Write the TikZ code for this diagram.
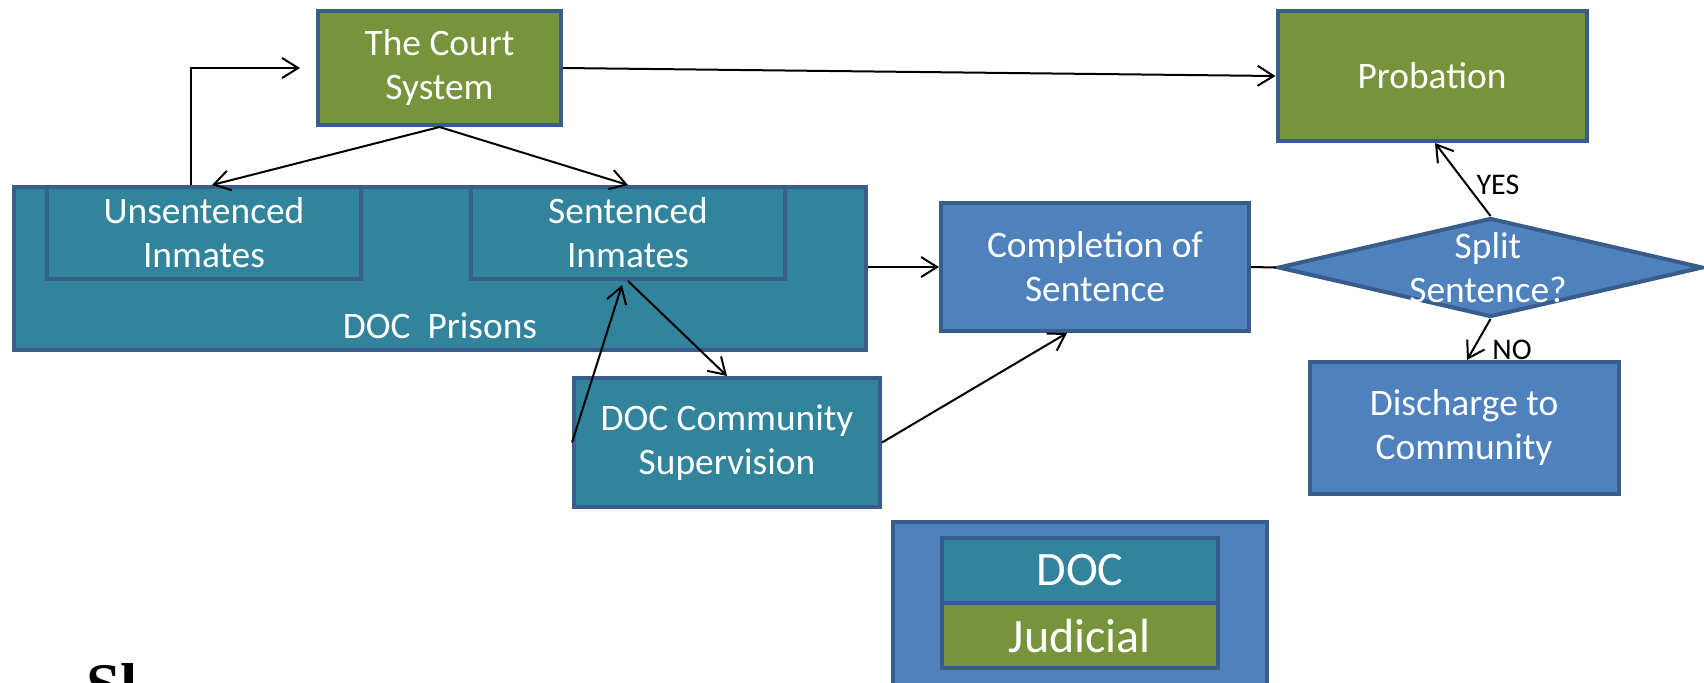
\documentclass[tikz,border=0pt]{standalone}
\usepackage{fontspec}
\setmainfont{Carlito}
\newfontfamily\logofont{Liberation Serif}
\usetikzlibrary{arrows.meta,shapes.geometric,calc}

\definecolor{judgreen}{HTML}{77933C}
\definecolor{docteal}{HTML}{31849B}
\definecolor{stepblue}{HTML}{4F81BD}
\definecolor{edgeblue}{HTML}{385D8A}

\tikzset{
  box/.style={draw=edgeblue, line width=2pt, text=white, align=center,
    font=\fontsize{18.7}{22}\selectfont, inner sep=0pt},
  court/.style={box, fill=judgreen},
  doc/.style={box, fill=docteal},
  other/.style={box, fill=stepblue},
  flow/.style={-{Straight Barb[length=8pt,width=10pt]}, line width=1pt},
  tag/.style={font=\fontsize{15}{17}\selectfont, inner sep=0pt},
}

\begin{document}
\begin{tikzpicture}[x=0.5pt,y=-0.5pt]
    \useasboundingbox (0,0) rectangle (1704,682);

    % judicial side
    \node[court, minimum width=121.5pt, minimum height=57pt] (court) at (439.5,68) {The Court\\System};
    \node[court, minimum width=154.5pt, minimum height=65pt] (prob) at (1432,76) {Probation};

    % prisons
    \node[doc, minimum width=426pt, minimum height=81.5pt] (prisons) at (440,268.5) {};
    \node[text=white, font=\fontsize{18.7}{22}\selectfont] (prisonstext) at (440,326) {DOC~ Prisons};
    \node[doc, minimum width=157pt, minimum height=46pt] (unsent) at (204,233) {Unsentenced\\Inmates};
    \node[doc, minimum width=157pt, minimum height=46pt] (sent) at (628,233) {Sentenced\\Inmates};
    \node[doc, minimum width=153pt, minimum height=64.5pt] (comm) at (727,442.5) {DOC Community\\Supervision};

    % release
    \node[other, minimum width=154pt, minimum height=64pt] (compl) at (1095,267) {Completion of\\Sentence};
    \node[diamond, draw=edgeblue, line width=2pt, fill=stepblue, inner sep=0pt,
      minimum width=212.5pt, minimum height=49.5pt] (split) at (1490.5,267.5) {};
    \node[text=white, align=center, font=\fontsize{18.7}{22}\selectfont] (splittext) at (1488,268) {Split\\Sentence?};
    \node[other, minimum width=154.5pt, minimum height=66pt] (disch) at (1464,428) {Discharge to\\Community};

    % key
    \node[other, minimum width=187pt, minimum height=90pt] (key) at (1080,612) {};
    \node[doc, minimum width=138pt, minimum height=32.5pt, font=\fontsize{24}{26}\selectfont] (keydoc) at (1080,570.5) {DOC};
    \node[court, minimum width=138pt, minimum height=32.5pt, font=\fontsize{24}{26}\selectfont] (keyjud) at (1080,635.5) {Judicial};

    \node[anchor=north west, inner sep=0pt, font=\logofont\bfseries\fontsize{31}{31}\selectfont] (logo) at (86,663) {Sl};

    % connectors
    \draw[flow] ([xshift=-6.5pt]unsent.north) |- ([xshift=-8pt]court.west);
    \draw[flow] (court.south) -- ([xshift=4pt]unsent.north);
    \draw[flow] (court.south) -- (sent.north);
    \draw[flow] (court.east) -- (prob.west);
    \draw[flow] (prisons.east |- compl.west) -- (compl.west);
    \draw[flow] (sent.south) -- (comm.north);
    \draw[flow] (comm.west) -- ([xshift=-3pt,yshift=-2pt]sent.south);
    \draw[flow] (comm.east) -- ([xshift=-14pt]compl.south);
    \draw[line width=1pt] (compl.east) -- (split.west);
    \draw[flow] (split.north) -- ([xshift=1.5pt]prob.south);
    \draw[flow] (split.south) -- ([xshift=1.5pt]disch.north);

    \node[tag] (yes) at (1498,185) {YES};
    \node[tag] (no) at (1512,350) {NO};
\end{tikzpicture}
\end{document}
